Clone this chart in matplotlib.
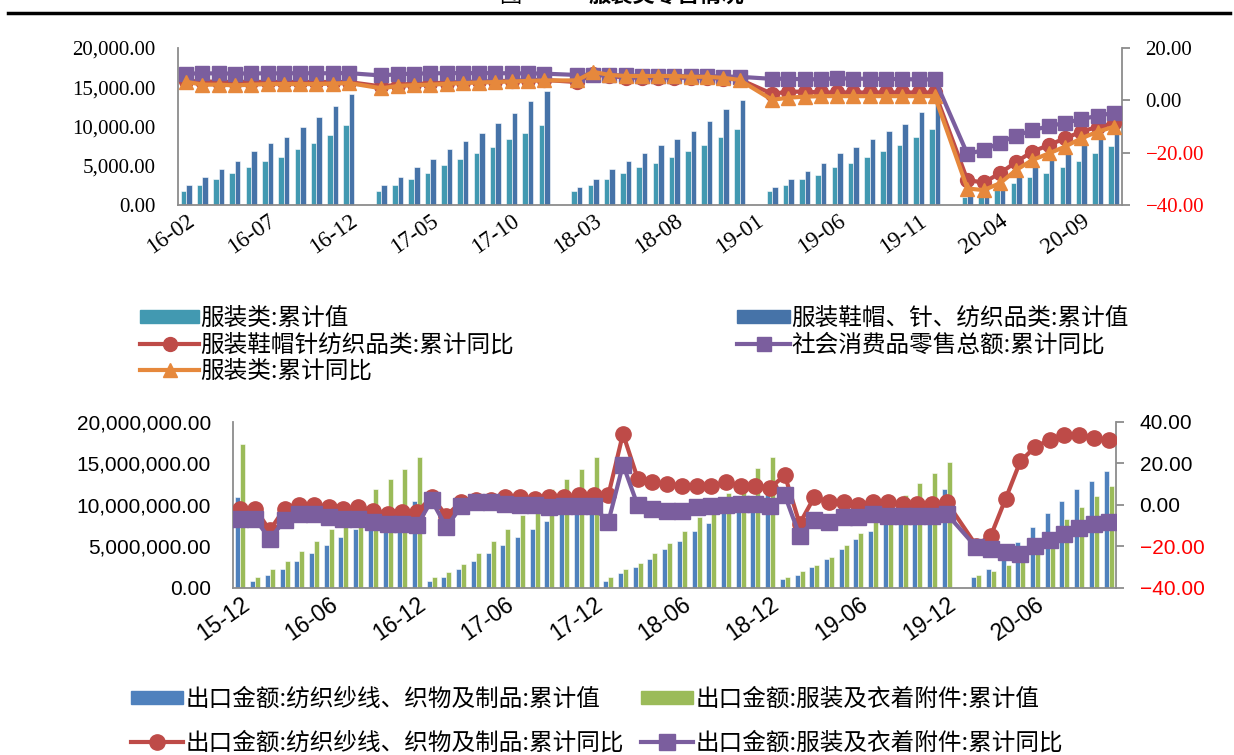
import numpy as np
import matplotlib
matplotlib.use("Agg")
import matplotlib.pyplot as plt
from matplotlib.lines import Line2D
from matplotlib.patches import Patch

CJK = ["Noto Sans CJK SC", "DejaVu Sans"]
N = np.nan

# ---- retail sales panel: 16-02 .. 20-11 (January not published) ----
retail_months = ([f"16-{m:02d}" for m in range(2, 13)]
                 + [f"{y}-{m:02d}" for y in (17, 18, 19) for m in range(1, 13)]
                 + [f"20-{m:02d}" for m in range(1, 12)])

clothing_cum = [1745, 2548, 3270, 4040, 4840, 5570, 6115, 7100, 7860, 8880, 10150,
                N, 1745, 2548, 3270, 4040, 5060, 5820, 6590, 7350, 8370, 9130, 10150,
                N, 1745, 2510, 3270, 4040, 4800, 5310, 6080, 6840, 7600, 8620, 9640,
                N, 1745, 2510, 3270, 3780, 4800, 5310, 6080, 6840, 7600, 8620, 9640,
                N, 1000, 1300, 1910, 2760, 3600, 4040, 4880, 5600, 6590, 7560]
apparel_cum = [2548, 3567, 4550, 5570, 6840, 7860, 8620, 9900, 11170, 12650, 14180,
               N, 2548, 3567, 4800, 5820, 7100, 8110, 9130, 10400, 11680, 13210, 14480,
               N, 2255, 3270, 4550, 5570, 6590, 7600, 8370, 9390, 10660, 12190, 13420,
               N, 2255, 3270, 4290, 5310, 6590, 7350, 8370, 9390, 10360, 11890, 13160,
               N, 1680, 2100, 2330, 3820, 5100, 5820, 6710, 7640, 8700, 9600]
apparel_yoy = [7.4, 7.2, 7.1, 7.0, 7.1, 7.0, 7.0, 7.0, 7.0, 7.0, 7.0,
               N, 5.3, 6.0, 6.3, 6.5, 6.8, 7.0, 7.2, 7.3, 7.5, 7.7, 7.8,
               N, 7.0, 9.9, 9.3, 8.7, 8.7, 8.7, 8.7, 8.6, 8.6, 8.3, 8.0,
               N, 2.5, 3.3, 3.3, 3.0, 3.0, 3.0, 3.0, 3.0, 3.0, 3.0, 3.0,
               N, -30.5, -31.4, -27.9, -23.5, -19.6, -17.1, -14.5, -12.0, -10.1, -8.8]
retail_total_yoy = [10.2, 10.3, 10.3, 10.2, 10.3, 10.3, 10.3, 10.4, 10.3, 10.4, 10.4,
                    N, 9.5, 10.0, 10.2, 10.3, 10.4, 10.4, 10.4, 10.4, 10.3, 10.3, 10.2,
                    N, 9.7, 9.8, 9.7, 9.5, 9.4, 9.3, 9.3, 9.3, 9.2, 9.1, 9.0,
                    N, 8.2, 8.3, 8.0, 8.1, 8.4, 8.3, 8.2, 8.2, 8.1, 8.0, 8.0,
                    N, -20.5, -19.0, -16.2, -13.5, -11.4, -9.9, -8.6, -7.2, -5.9, -4.8]
clothing_yoy = [7.1, 6.0, 6.0, 5.7, 6.0, 6.2, 6.2, 6.2, 6.2, 6.4, 6.6,
                N, 4.6, 5.5, 5.8, 6.0, 6.3, 6.6, 6.8, 7.0, 7.2, 7.4, 7.6,
                N, 7.6, 10.9, 9.7, 9.3, 9.3, 9.3, 9.3, 9.0, 9.0, 8.6, 7.8,
                N, 0.2, 1.0, 1.4, 1.6, 1.6, 1.6, 1.6, 1.6, 1.6, 1.6, 1.6,
                N, -33.7, -34.3, -31.7, -26.6, -22.8, -20.3, -17.7, -14.5, -12.0, -10.1]

# ---- export panel: 15-12 .. 20-11 (20-01 merged into 20-02) ----
export_months = (["15-12"] + [f"{y}-{m:02d}" for y in (16, 17, 18, 19) for m in range(1, 13)]
                 + [f"20-{m:02d}" for m in range(1, 12)])

textile_exp = [10.9,
               0.79, 1.55, 2.2, 3.17, 4.13, 5.1, 6.07, 7.04, 8.0, 8.97, 9.85, 10.42,
               0.79, 1.23, 2.2, 3.17, 4.13, 5.1, 6.07, 7.04, 8.0, 8.97, 9.95, 10.95,
               0.79, 1.75, 2.44, 3.41, 4.62, 5.58, 6.79, 7.76, 8.97, 9.9, 10.9, 11.9,
               0.99, 1.47, 2.44, 3.41, 4.62, 5.83, 6.79, 7.76, 8.77, 9.77, 10.9, 11.87,
               N, 1.23, 2.2, 3.9, 5.54, 7.28, 8.97, 10.42, 11.87, 12.84, 14.05]
garment_exp = [17.4,
               1.23, 2.2, 3.17, 4.38, 5.58, 7.04, 8.56, 10.42, 11.87, 13.08, 14.29, 15.74,
               1.25, 1.9, 2.9, 4.13, 5.58, 7.04, 8.73, 10.6, 11.9, 13.08, 14.29, 15.74,
               1.23, 2.2, 2.92, 4.13, 5.34, 6.79, 8.49, 9.77, 11.39, 12.6, 14.49, 15.74,
               1.23, 1.96, 2.68, 3.65, 5.1, 6.55, 8.37, 9.37, 11.15, 12.6, 13.8, 15.2,
               N, 1.47, 1.96, 2.76, 3.73, 4.93, 6.6, 8.28, 9.7, 11.1, 12.3]
textile_yoy = [-1.9,
               -1.9, -12.4, -1.9, -0.3, -0.3, -1.1, -1.9, -1.1, -2.8, -4.4, -3.6, -3.6,
               3.7, -5.2, 1.3, 2.1, 2.1, 3.7, 3.7, 2.9, 3.7, 3.7, 4.5, 4.5,
               4.5, 34.3, 12.6, 10.9, 10.1, 9.3, 9.3, 8.9, 10.9, 9.3, 9.3, 8.2,
               14.2, -9.2, 3.7, 1.3, 1.3, 0.1, 1.3, 1.3, 0.5, 0.5, 0.5, 1.3,
               N, -19.7, -14.9, 2.9, 21.0, 27.9, 31.5, 33.9, 33.9, 32.2, 31.1]
garment_yoy = [-6.8,
               -6.8, -16.5, -7.6, -4.4, -4.4, -6.0, -6.8, -6.8, -8.4, -9.2, -9.2, -10.0,
               2.1, -10.8, -0.8, 1.3, 1.3, 0.5, -0.3, -0.3, -1.1, -0.8, -0.8, -0.8,
               -8.4, 19.4, -0.3, -1.9, -2.8, -2.8, -1.1, -0.8, 0.0, 0.5, 0.5, -0.8,
               4.5, -14.9, -7.3, -8.4, -6.0, -5.7, -4.4, -5.2, -5.2, -5.2, -5.2, -4.4,
               N, -20.5, -21.3, -22.9, -23.7, -20.0, -16.9, -14.0, -11.1, -9.2, -8.1]

TEAL, BLUE1 = "#4299B1", "#4673A8"
BLUE2, GREEN = "#4F81BD", "#9BBB59"
RED, PURPLE, ORANGE = "#BE4B48", "#7B5E9E", "#E6883C"
SPINE = "#8C8C8C"


def valid(values):
    v = np.array(values, dtype=float)
    idx = np.arange(len(v))
    ok = ~np.isnan(v)
    return idx[ok], v[ok]


def style_axes(ax, ax2, font, label_size, xlabel_size):
    for a in (ax, ax2):
        for s in a.spines.values():
            s.set_visible(False)
    ax.spines["left"].set_visible(True)
    ax.spines["bottom"].set_visible(True)
    ax2.spines["right"].set_visible(True)
    for s in (ax.spines["left"], ax.spines["bottom"], ax2.spines["right"]):
        s.set_color(SPINE)
        s.set_linewidth(1.3)
    ax.tick_params(axis="y", length=0, pad=16, labelsize=label_size)
    ax.tick_params(axis="x", length=0, pad=4, labelsize=xlabel_size)
    ax2.tick_params(axis="y", length=6, width=1.3, color=SPINE, pad=11,
                    labelsize=label_size)
    for lab in ax.get_xticklabels() + ax.get_yticklabels() + ax2.get_yticklabels():
        lab.set_family(font)
    for lab, val in zip(ax2.get_yticklabels(), ax2.get_yticks()):
        lab.set_color("red" if val < 0 else "black")


fig = plt.figure(figsize=(12.34, 7.55), dpi=100)

# ---------------- retail panel ----------------
ax = fig.add_axes([178 / 1234, 1 - 205 / 755, 944 / 1234, 157 / 755])
ax2 = ax.twinx()
n1 = len(retail_months)
bw = 0.34
x, v = valid(clothing_cum)
ax.bar(x - bw / 2, v, width=bw, color=TEAL, edgecolor="white", linewidth=0.4)
x, v = valid(apparel_cum)
ax.bar(x + bw / 2, v, width=bw, color=BLUE1, edgecolor="white", linewidth=0.4)
ax.set_xlim(-0.5, n1 - 0.5)
ax.set_ylim(0, 20000)
ax.set_yticks(np.arange(0, 20001, 5000))
ax.yaxis.set_major_formatter(matplotlib.ticker.StrMethodFormatter("{x:,.2f}"))
ax.set_xticks(np.arange(0, n1, 5))
ax.set_xticklabels(retail_months[::5], rotation=35, ha="right", va="top",
                   rotation_mode="anchor")

x, v = valid(apparel_yoy)
ax2.plot(x, v, color=RED, lw=3, marker="o", ms=10, zorder=3)
x, v = valid(retail_total_yoy)
ax2.plot(x, v, color=PURPLE, lw=3, marker="s", ms=9.5, zorder=4)
x, v = valid(clothing_yoy)
ax2.plot(x, v, color=ORANGE, lw=3, marker="^", ms=10, zorder=5)
ax2.set_ylim(-40, 20)
ax2.set_yticks([-40, -20, 0, 20])
ax2.yaxis.set_major_formatter(matplotlib.ticker.StrMethodFormatter("{x:.2f}"))
style_axes(ax, ax2, "Liberation Serif", 15, 16.5)

# ---------------- export panel ----------------
bx = fig.add_axes([233 / 1234, 1 - 587.5 / 755, 883 / 1234, 165.5 / 755])
bx2 = bx.twinx()
n2 = len(export_months)
x, v = valid(textile_exp)
bx.bar(x - bw / 2, v, width=bw, color=BLUE2, edgecolor="white", linewidth=0.4)
x, v = valid(garment_exp)
bx.bar(x + bw / 2, v, width=bw, color=GREEN, edgecolor="white", linewidth=0.4)
bx.set_xlim(-0.5, n2 - 0.5)
bx.set_ylim(0, 20)
bx.set_yticks(np.arange(0, 21, 5))
bx.yaxis.set_major_formatter(
    matplotlib.ticker.FuncFormatter(lambda t, p: f"{t * 1e6:,.2f}"))
bx.set_xticks(np.arange(0, n2, 6))
bx.set_xticklabels(export_months[::6], rotation=35, ha="right", va="top",
                   rotation_mode="anchor")

x, v = valid(textile_yoy)
bx2.plot(x, v, color=RED, lw=3, marker="o", ms=11, zorder=3)
x, v = valid(garment_yoy)
bx2.plot(x, v, color=PURPLE, lw=3, marker="s", ms=11, zorder=4)
bx2.set_ylim(-40, 40)
bx2.set_yticks([-40, -20, 0, 20, 40])
bx2.yaxis.set_major_formatter(matplotlib.ticker.StrMethodFormatter("{x:.2f}"))
style_axes(bx, bx2, "Liberation Sans", 15, 16.5)

# ---------------- legends ----------------
leg_kw = dict(frameon=False, prop={"family": CJK, "size": 17}, borderpad=0,
              borderaxespad=0, handlelength=2.5, handletextpad=0.05,
              labelspacing=0.14, handleheight=0.5)


def line_handle(color, marker, ms):
    return Line2D([], [], color=color, lw=3, marker=marker, ms=ms)


fig.legend([Patch(color=TEAL), line_handle(RED, "o", 10), line_handle(ORANGE, "^", 10)],
           ["服装类:累计值", "服装鞋帽针纺织品类:累计同比", "服装类:累计同比"],
           loc="upper left", bbox_to_anchor=(140 / 1234, 1 - 307 / 755), **leg_kw)
fig.legend([Patch(color=BLUE1), line_handle(PURPLE, "s", 9.5)],
           ["服装鞋帽、针、纺织品类:累计值", "社会消费品零售总额:累计同比"],
           loc="upper left", bbox_to_anchor=(737 / 1234, 1 - 307 / 755),
           **dict(leg_kw, handlelength=2.25))

leg_kw2 = dict(leg_kw, labelspacing=0.88, handlelength=2.2, handletextpad=0.1)
fig.legend([Patch(color=BLUE2), line_handle(RED, "o", 11)],
           ["出口金额:纺织纱线、织物及制品:累计值", "出口金额:纺织纱线、织物及制品:累计同比"],
           loc="upper left", bbox_to_anchor=(131 / 1234, 1 - 688 / 755), **leg_kw2)
fig.legend([Patch(color=GREEN), line_handle(PURPLE, "s", 11)],
           ["出口金额:服装及衣着附件:累计值", "出口金额:服装及衣着附件:累计同比"],
           loc="upper left", bbox_to_anchor=(641 / 1234, 1 - 688 / 755), **leg_kw2)

# header rule with the caption running off the top edge
fig.add_artist(Line2D([8 / 1234, 1230 / 1234], [1 - 13 / 755] * 2, color="black", lw=2.5))
fig.text(510 / 1234, 1 - 2 / 755, "图", family=CJK, size=16, ha="center", va="baseline")
fig.text(588 / 1234, 1 - 2 / 755, "服装类零售情况", family=CJK, size=16, ha="left",
         va="baseline", fontweight="bold")

fig.savefig("out.png", dpi=100)
